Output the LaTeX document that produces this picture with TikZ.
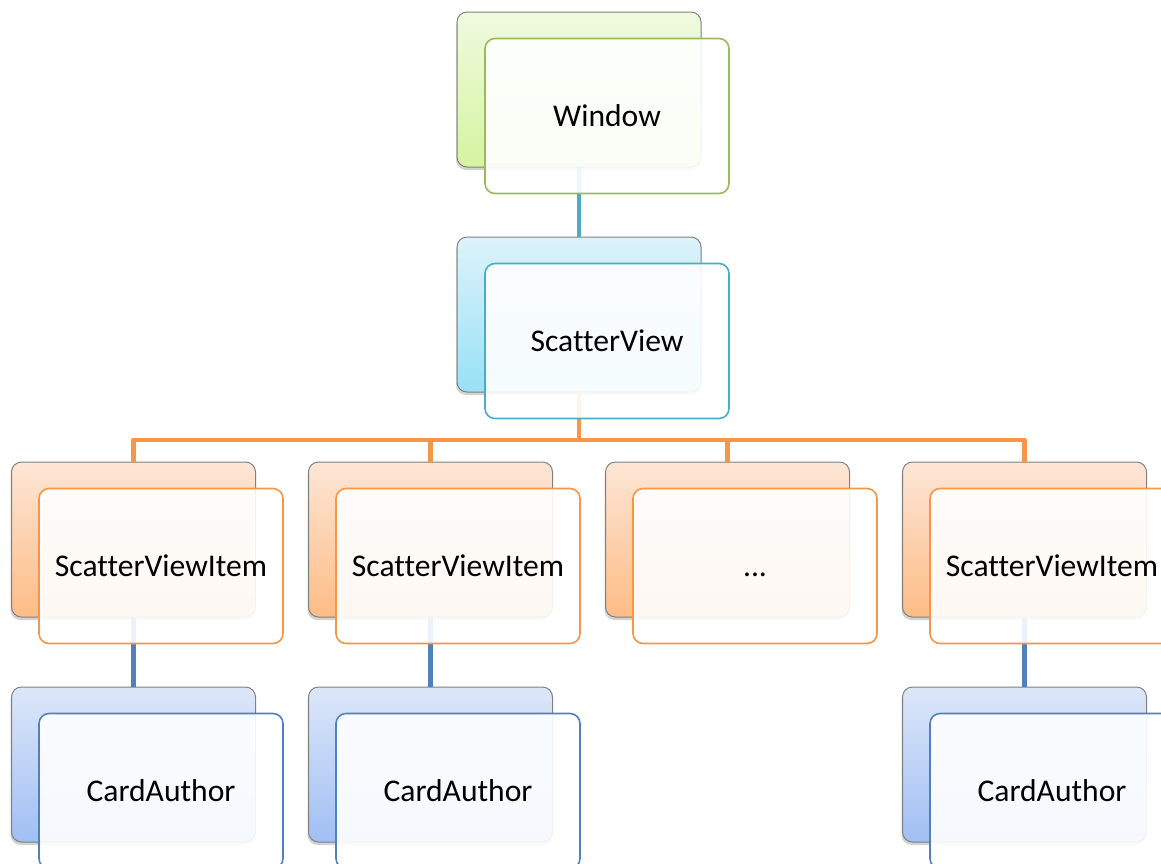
\documentclass[tikz,border=0pt]{standalone}
\usepackage{fontspec}
\setmainfont{Carlito}[Ligatures={NoCommon}]
\usetikzlibrary{shadows}
\definecolor{gB}{HTML}{9BBB59}\definecolor{gT}{HTML}{F0FADF}\definecolor{gL}{HTML}{D5F4A0}
\definecolor{tB}{HTML}{4BACC6}\definecolor{tT}{HTML}{DDF3FA}\definecolor{tL}{HTML}{98E1F6}
\definecolor{oB}{HTML}{F79646}\definecolor{oT}{HTML}{FDE6D6}\definecolor{oL}{HTML}{FDBC86}
\definecolor{bB}{HTML}{4F81BD}\definecolor{bT}{HTML}{DDE7F9}\definecolor{bL}{HTML}{A0BFF4}
\tikzset{
  box/.style={rectangle, rounded corners=5pt, minimum width=122pt, minimum height=77.5pt, inner sep=0pt, outer sep=0pt},
  backbox/.style={box, draw=black!50, line width=0.5pt, drop shadow={shadow xshift=-0.5pt, shadow yshift=-1.5pt, opacity=0.35}},
  frontbox/.style={box, fill=white, fill opacity=0.9, text opacity=1, line width=0.8pt, text height=12pt, text depth=1.5pt, font=\fontsize{15.8pt}{19pt}\selectfont},
  gback/.style={backbox, top color=gT, bottom color=gL}, gfront/.style={frontbox, draw=gB},
  tback/.style={backbox, top color=tT, bottom color=tL}, tfront/.style={frontbox, draw=tB},
  oback/.style={backbox, top color=oT, bottom color=oL}, ofront/.style={frontbox, draw=oB},
  bback/.style={backbox, top color=bT, bottom color=bL}, bfront/.style={frontbox, draw=bB},
  link/.style={line width=2.4pt}
}
\begin{document}
\begin{tikzpicture}[x=0.5pt,y=-0.5pt]
\clip (0,0) rectangle (1161,863);
\fill[white] (0,0) rectangle (1161,863);
% back boxes
\node[gback] (bw) at (579,89.5) {};
\node[tback] (bs) at (579,314.5) {};
\node[oback] (bi1) at (133.5,539.5) {};
\node[oback] (bi2) at (430.5,539.5) {};
\node[oback] (bi3) at (727.5,539.5) {};
\node[oback] (bi4) at (1024.5,539.5) {};
\node[bback] (bc1) at (133.5,764.5) {};
\node[bback] (bc2) at (430.5,764.5) {};
\node[bback] (bc4) at (1024.5,764.5) {};
% connectors
\draw[link, tB] (bw.south) -- (bs.north);
\coordinate (bus) at (579,440);
\draw[link, oB] (bs.south) -- (bus);
\draw[link, oB, line join=round] (bus) -| (bi1.north);
\draw[link, oB] (bus) -| (bi2.north);
\draw[link, oB] (bus) -| (bi3.north);
\draw[link, oB, line join=round] (bus) -| (bi4.north);
\draw[link, bB] (bi1.south) -- (bc1.north);
\draw[link, bB] (bi2.south) -- (bc2.north);
\draw[link, bB] (bi4.south) -- (bc4.north);
% front boxes
\node[gfront] (fw) at (607,116) {Window};
\node[tfront] (fs) at (607,341) {ScatterView};
\node[ofront] (fi1) at (161,566) {ScatterViewItem};
\node[ofront] (fi2) at (458,566) {ScatterViewItem};
\node[ofront] (fi3) at (755,566) {...};
\node[ofront] (fi4) at (1052,566) {ScatterViewItem};
\node[bfront] (fc1) at (161,791) {CardAuthor};
\node[bfront] (fc2) at (458,791) {CardAuthor};
\node[bfront] (fc4) at (1052,791) {CardAuthor};
\end{tikzpicture}
\end{document}
